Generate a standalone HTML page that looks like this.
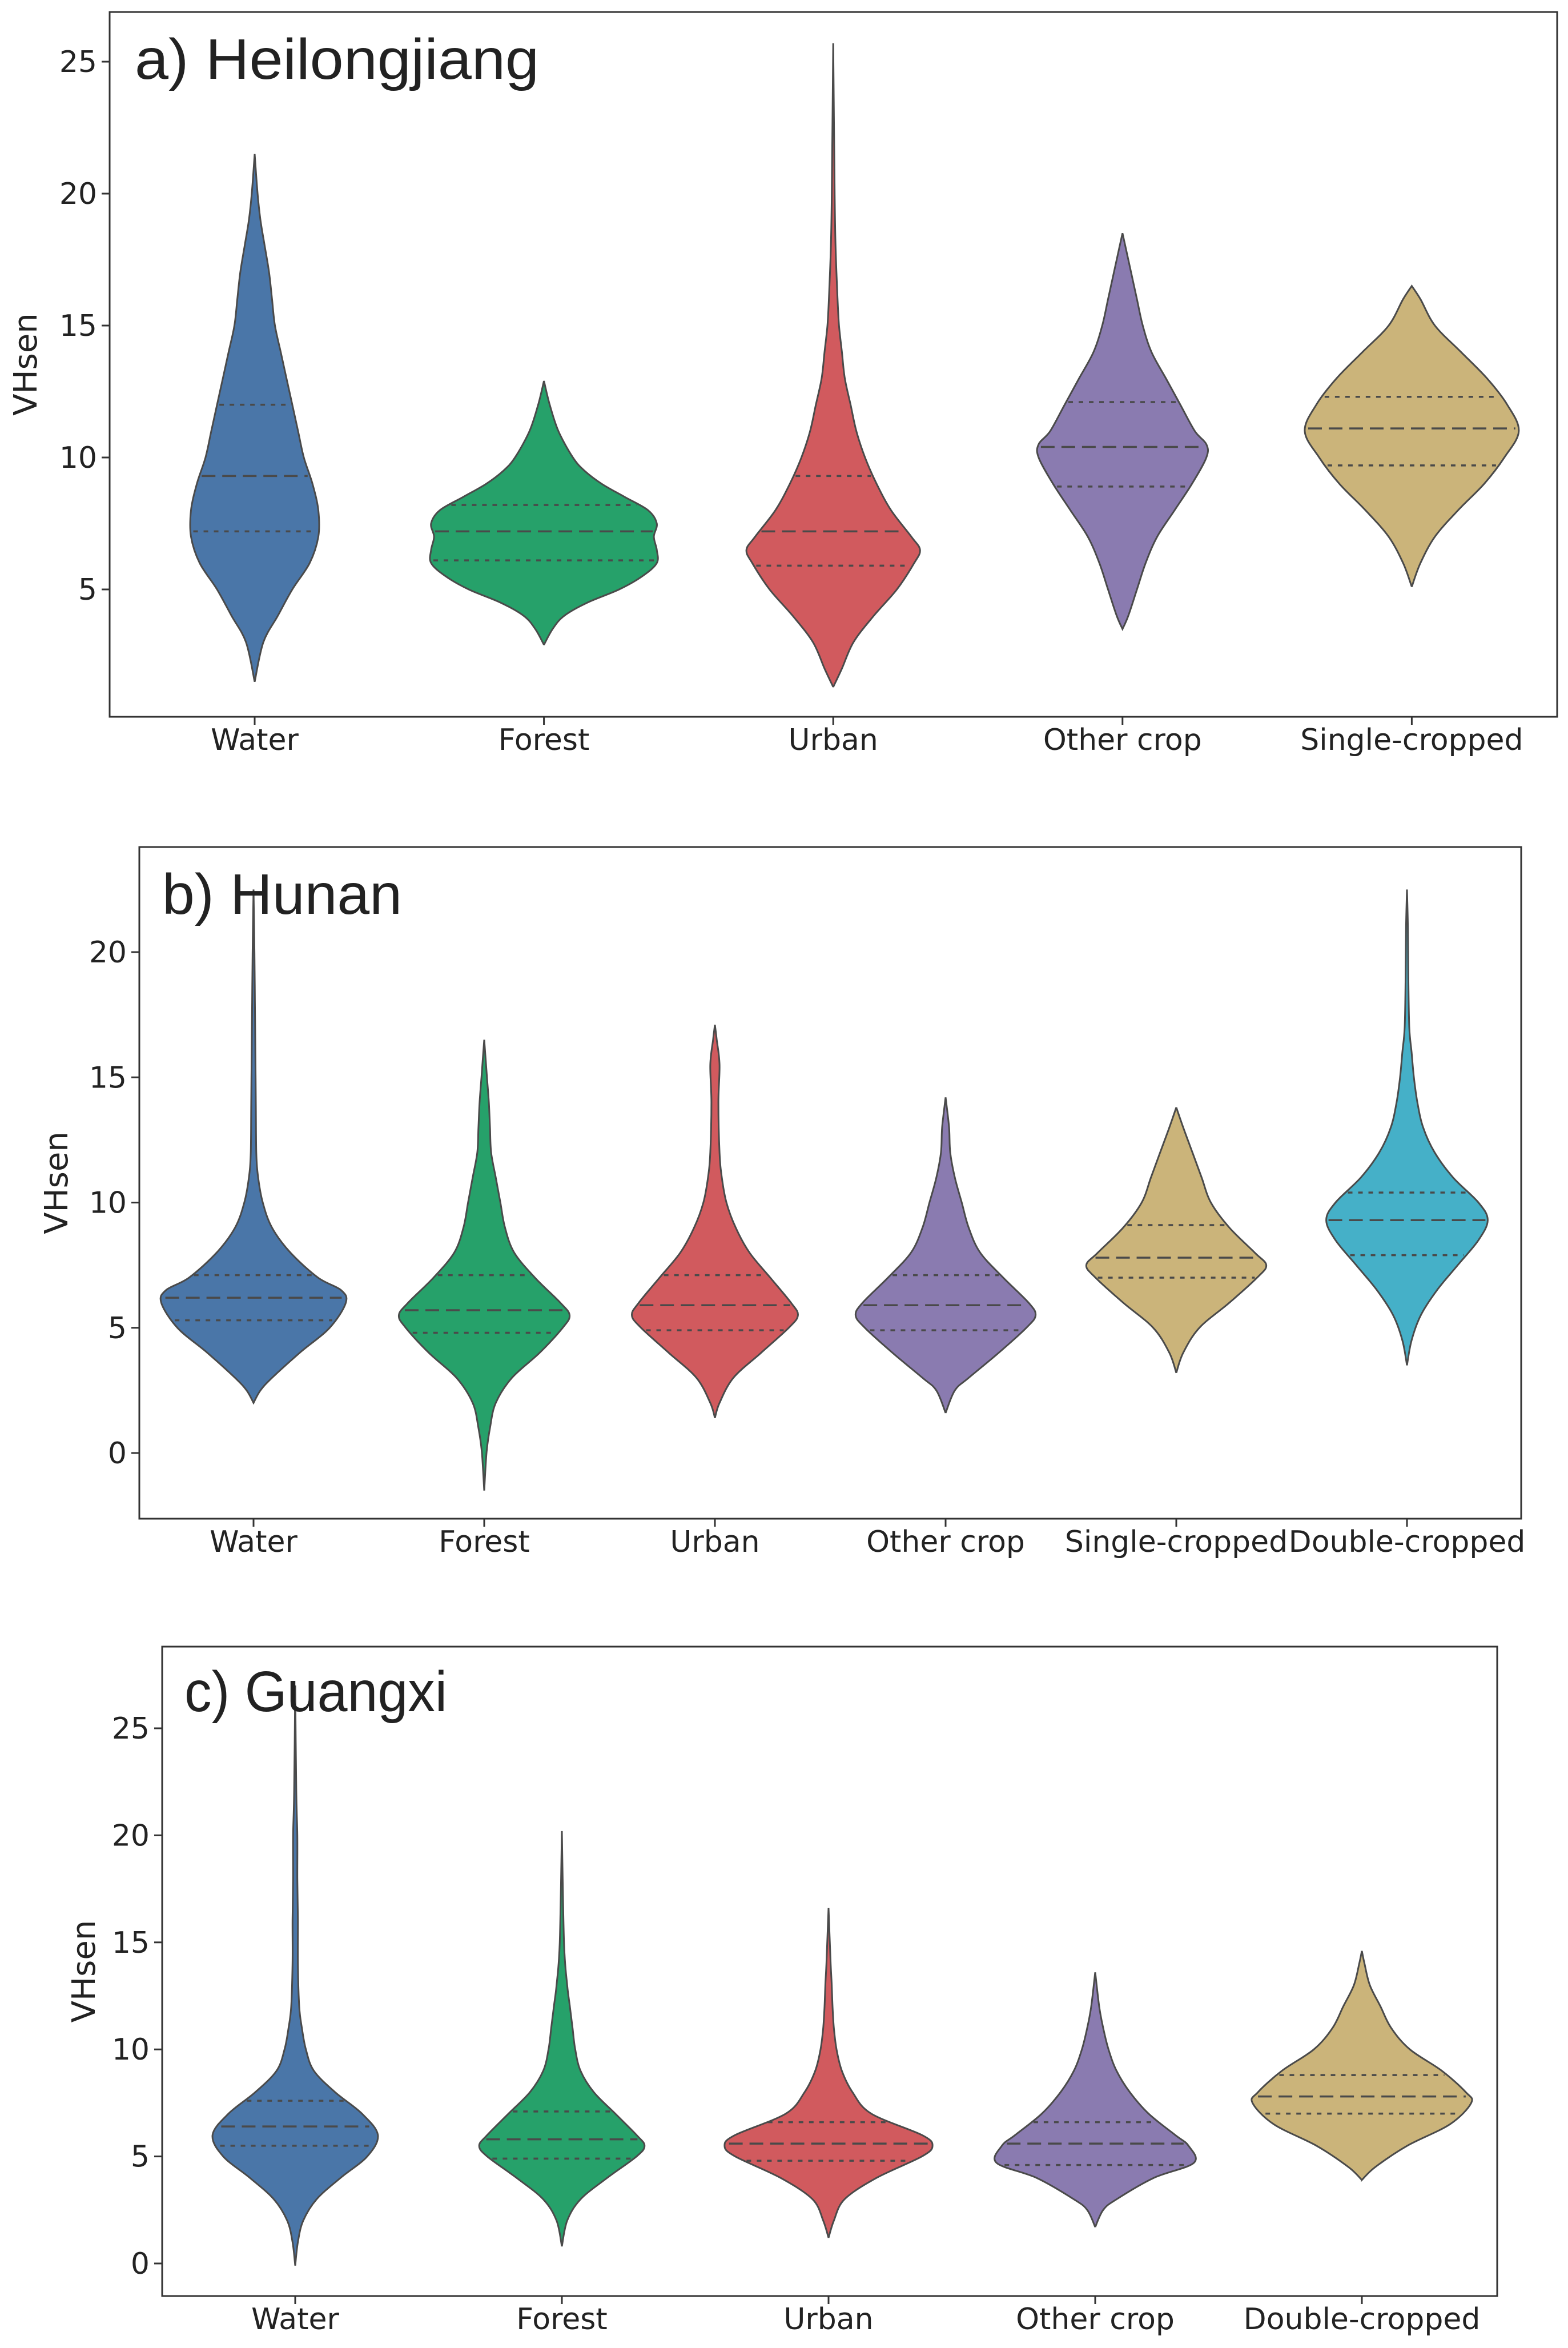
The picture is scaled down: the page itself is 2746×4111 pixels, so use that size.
<!DOCTYPE html>
<html><head><meta charset="utf-8"><style>
html,body{margin:0;padding:0;background:#fff;}
svg{display:block;font-family:"DejaVu Sans","Liberation Sans",sans-serif;}
</style></head><body>
<svg id="chart" width="2746" height="4111" viewBox="0 0 2746 4111" xmlns="http://www.w3.org/2000/svg"></svg>
<script>
// ---------- data ----------
const catsA = ["Water","Forest","Urban","Other crop","Single-cropped"];
const catsB = ["Water","Forest","Urban","Other crop","Single-cropped","Double-cropped"];
const catsC = ["Water","Forest","Urban","Other crop","Double-cropped"];
const ticksA = [5,10,15,20,25];
const ticksB = [0,5,10,15,20];
const ticksC = [0,5,10,15,20,25];
// quartiles [q1, median, q3]
const quartA = [[7.2,9.3,12.0],[6.1,7.2,8.2],[5.9,7.2,9.3],[8.9,10.4,12.1],[9.7,11.1,12.3]];
const quartB = [[5.3,6.2,7.1],[4.8,5.7,7.1],[4.9,5.9,7.1],[4.9,5.9,7.1],[7.0,7.8,9.1],[7.9,9.3,10.4]];
const quartC = [[5.5,6.4,7.6],[4.9,5.8,7.1],[4.8,5.6,6.6],[4.6,5.6,6.6],[7.0,7.8,8.8]];
// density profiles: [value, half-width in category units]
const densA = [
 [[1.5,0],[3,0.03],[4,0.08],[5,0.13],[6,0.19],[7,0.22],[8,0.22],[9,0.2],[10,0.17],[11,0.15],[12,0.13],[13,0.11],[14,0.09],[15,0.07],[16,0.06],[17,0.05],[18,0.035],[19,0.02],[20,0.01],[21.5,0]],
 [[2.9,0],[3.5,0.03],[4,0.07],[4.5,0.15],[5,0.26],[5.5,0.34],[6,0.39],[6.5,0.39],[7,0.38],[7.5,0.39],[8,0.36],[8.5,0.28],[9,0.2],[9.5,0.14],[10,0.1],[11,0.05],[12,0.02],[12.9,0]],
 [[1.3,0],[2,0.03],[3,0.07],[4,0.14],[5,0.22],[6,0.28],[6.5,0.3],[7,0.27],[8,0.2],[9,0.15],[10,0.11],[11,0.08],[12,0.06],[13,0.04],[14,0.03],[15,0.02],[16,0.015],[18,0.008],[20,0.005],[25.7,0]],
 [[3.5,0],[4,0.02],[5,0.05],[6,0.08],[7,0.12],[8,0.18],[9,0.24],[10,0.29],[10.5,0.29],[11,0.25],[12,0.2],[13,0.15],[14,0.1],[15,0.07],[16,0.05],[17,0.03],[18,0.01],[18.5,0]],
 [[5.1,0],[6,0.03],[7,0.08],[8,0.16],[9,0.25],[10,0.32],[11,0.37],[12,0.33],[13,0.26],[14,0.17],[15,0.08],[16,0.03],[16.5,0]]
];
const densB = [
 [[2,0],[2.5,0.03],[3,0.08],[4,0.2],[5,0.33],[6,0.4],[6.5,0.38],[7,0.28],[8,0.16],[9,0.08],[10,0.04],[11,0.02],[12,0.012],[14,0.01],[16,0.008],[18,0.006],[20,0.004],[22.5,0]],
 [[-1.5,0],[0,0.01],[1,0.025],[2,0.05],[3,0.12],[4,0.24],[5,0.34],[5.5,0.37],[6,0.33],[7,0.22],[8,0.13],[9,0.09],[10,0.07],[11,0.05],[12,0.03],[13,0.025],[14,0.02],[15,0.012],[16.5,0]],
 [[1.4,0],[2,0.02],[3,0.08],[4,0.2],[5,0.32],[5.5,0.36],[6,0.33],[7,0.24],[8,0.15],[9,0.09],[10,0.05],[11,0.03],[12,0.02],[14,0.015],[15.5,0.02],[16.5,0.008],[17.1,0]],
 [[1.6,0],[2.5,0.04],[3,0.1],[4,0.23],[5,0.35],[5.5,0.39],[6,0.36],[7,0.25],[8,0.15],[9,0.1],[10,0.07],[11,0.04],[12,0.02],[13,0.015],[14.2,0]],
 [[3.2,0],[4,0.03],[5,0.1],[6,0.23],[7,0.35],[7.5,0.39],[8,0.34],[9,0.23],[10,0.15],[11,0.11],[12,0.07],[13,0.03],[13.8,0]],
 [[3.5,0],[4.5,0.02],[5.5,0.06],[6.5,0.13],[7.5,0.22],[8.5,0.31],[9.3,0.35],[10,0.31],[11,0.2],[12,0.12],[13,0.07],[14,0.045],[15,0.03],[16,0.02],[17,0.01],[19,0.006],[21,0.004],[22.5,0]]
];
const densC = [
 [[-0.1,0],[1,0.01],[2,0.03],[3,0.08],[4,0.17],[5,0.27],[6,0.31],[7,0.25],[8,0.15],[9,0.07],[10,0.04],[11,0.025],[12,0.015],[14,0.01],[16,0.01],[18,0.008],[20,0.008],[22,0.004],[27,0]],
 [[0.8,0],[2,0.02],[3,0.07],[4,0.17],[5,0.28],[5.5,0.31],[6,0.28],[7,0.2],[8,0.12],[9,0.07],[10,0.05],[11,0.04],[12,0.03],[13,0.02],[15,0.008],[20.2,0]],
 [[1.2,0],[2,0.02],[3,0.06],[4,0.18],[5,0.35],[5.5,0.39],[6,0.35],[7,0.16],[8,0.09],[9,0.05],[10,0.03],[11,0.02],[12,0.015],[13,0.012],[14,0.008],[16.6,0]],
 [[1.7,0],[2.5,0.03],[3,0.08],[4,0.22],[4.7,0.37],[5.5,0.35],[6,0.3],[7,0.2],[8,0.13],[9,0.08],[10,0.05],[11,0.03],[12,0.015],[13.6,0]],
 [[3.9,0],[4.5,0.05],[5.5,0.17],[6.5,0.33],[7.5,0.41],[8,0.39],[9,0.3],[10,0.18],[11,0.11],[12,0.07],[13,0.03],[14,0.01],[14.6,0]]
];
const colorsA = ["#4a76a8","#26a16a","#d15a5e","#8a7bb0","#cbb47a"];
const colorsB = ["#4a76a8","#26a16a","#d15a5e","#8a7bb0","#cbb47a","#45b0c8"];
const colorsC = ["#4a76a8","#26a16a","#d15a5e","#8a7bb0","#cbb47a"];

// ---------- drawing ----------
const NS="http://www.w3.org/2000/svg";
const svg=document.getElementById('chart');
function mk(tag,attrs,parent){const e=document.createElementNS(NS,tag);for(const k in attrs)e.setAttribute(k,attrs[k]);(parent||svg).appendChild(e);return e;}
function widthAt(d,v){for(let i=0;i<d.length-1;i++){if(v>=d[i][0]&&v<=d[i+1][0]){const t=(v-d[i][0])/(d[i+1][0]-d[i][0]);return d[i][1]+t*(d[i+1][1]-d[i][1]);}}return 0;}
function smoothPath(pts){let s="M"+pts[0][0]+","+pts[0][1];for(let i=0;i<pts.length-1;i++){const p0=pts[i-1]||pts[i],p1=pts[i],p2=pts[i+1],p3=pts[i+2]||p2;const c1x=p1[0]+(p2[0]-p0[0])/6,c1y=p1[1]+(p2[1]-p0[1])/6,c2x=p2[0]-(p3[0]-p1[0])/6,c2y=p2[1]-(p3[1]-p1[1])/6;s+=" C"+c1x.toFixed(1)+","+c1y.toFixed(1)+" "+c2x.toFixed(1)+","+c2y.toFixed(1)+" "+p2[0].toFixed(1)+","+p2[1].toFixed(1);}return s;}

function panel(cfg){
  const g=mk('g',{});
  
  
  const yS=v=>cfg.y0-(v-cfg.v0)*cfg.ppu;
  const xS=i=>cfg.x0+i*cfg.sp;
  cfg.cats.forEach((c,i)=>{
    const d=cfg.dens[i],cx=xS(i);
    const right=d.map(p=>[cx+p[1]*cfg.sp,yS(p[0])]);
    const left=d.slice().reverse().map(p=>[cx-p[1]*cfg.sp,yS(p[0])]);
    const pr=smoothPath(right), pl=smoothPath(left);
    const path=mk('path',{d:pr+" L"+pl.slice(1)+" Z",fill:cfg.colors[i],stroke:"#4a4a4a","stroke-width":3},g);
    
    
    cfg.quart[i].forEach((q,k)=>{
      const w=widthAt(d,q)*cfg.sp, y=yS(q);
      const ln=mk('line',{x1:cx-w+4,x2:cx+w-4,y1:y,y2:y,stroke:"#4a4a4a","stroke-width":3.5,"stroke-dasharray":k===1?"24,12":"8,10"},g);
      
      
    });
  });
  const fr=mk('rect',{x:cfg.L,y:cfg.T,width:cfg.R-cfg.L,height:cfg.B-cfg.T,fill:"none",stroke:"#333","stroke-width":3},g);
  
  
  cfg.ticks.forEach(t=>{
    const y=yS(t);
    mk('line',{x1:cfg.L-14,x2:cfg.L,y1:y,y2:y,stroke:"#333","stroke-width":3},g);
    const tx=mk('text',{x:cfg.L-22,y:y+18,"text-anchor":"end","font-size":52,fill:"#222"},g);
    
    
    tx.textContent=t;
  });
  cfg.cats.forEach((c,i)=>{
    const x=xS(i);
    mk('line',{x1:x,x2:x,y1:cfg.B,y2:cfg.B+14,stroke:"#333","stroke-width":3},g);
    const tx=mk('text',{x:x,y:cfg.B+58,"text-anchor":"middle","font-size":52,fill:"#222"},g);
    
    
    tx.textContent=c;
  });
  const yl=mk('text',{x:0,y:0,transform:`translate(${cfg.ylx},${(cfg.T+cfg.B)/2}) rotate(-90)`,"text-anchor":"middle","font-size":56,fill:"#222"},g);
  
  
  yl.textContent="VHsen";
  const tt=mk('text',{x:cfg.tx,y:cfg.ty,"font-size":100,fill:"#222",textLength:cfg.tw,lengthAdjust:"spacingAndGlyphs","font-family":"Liberation Sans, sans-serif"},g);
  
  
  tt.textContent=cfg.title;
}
panel({name:'panel-heilongjiang',cats:catsA,dens:densA,quart:quartA,colors:colorsA,ticks:ticksA,L:192,R:2727,T:21,B:1255,y0:1032,v0:5,ppu:46.2,x0:446,sp:506.6,ylx:64,title:"a) Heilongjiang",tx:236,ty:138,tw:708});
panel({name:'panel-hunan',cats:catsB,dens:densB,quart:quartB,colors:colorsB,ticks:ticksB,L:244,R:2664,T:1483,B:2659,y0:2544,v0:0,ppu:43.85,x0:444,sp:404,ylx:118,title:"b) Hunan",tx:284,ty:1600,tw:420});
panel({name:'panel-guangxi',cats:catsC,dens:densC,quart:quartC,colors:colorsC,ticks:ticksC,L:284,R:2622,T:2883,B:4020,y0:3963,v0:0,ppu:37.48,x0:517,sp:467,ylx:166,title:"c) Guangxi",tx:323,ty:2996,tw:460});
</script>
</body></html>
